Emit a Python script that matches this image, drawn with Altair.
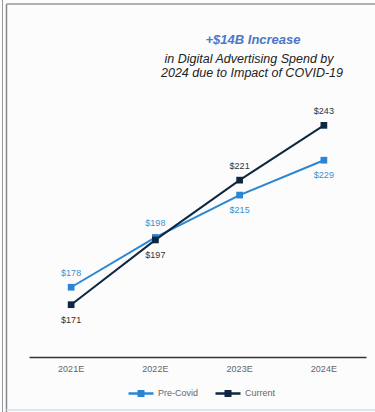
import altair as alt
import pandas as pd

years = ["2021E", "2022E", "2023E", "2024E"]
pre_covid = [178, 198, 215, 229]
current = [171, 197, 221, 243]
series_names = ["Pre-Covid", "Current"]
# label placement: +1 above, -1 below
pre_pos = [1, 1, -1, -1]
cur_pos = [-1, -1, 1, 1]

rows = []
for i, y in enumerate(years):
    rows.append({"year": y, "series": "Pre-Covid", "value": pre_covid[i], "pos": pre_pos[i]})
    rows.append({"year": y, "series": "Current", "value": current[i], "pos": cur_pos[i]})
df = pd.DataFrame(rows)
df["label"] = df["value"].map(lambda v: f"${v}")

colors = ["#2A86D2", "#0F2740"]
FONT = "Liberation Sans"

x = alt.X("year:N", sort=years, scale=alt.Scale(type="band", paddingInner=0, paddingOuter=0),
          axis=alt.Axis(title=None, labelAngle=0, ticks=False, domainColor="#333", domainWidth=1.5,
                        labelColor="#666", labelFontSize=9, labelPadding=7, labelFont=FONT, grid=False))
y = alt.Y("value:Q", scale=alt.Scale(domain=[150, 260], nice=False, zero=False), axis=None)
color = alt.Color("series:N", sort=series_names,
                  scale=alt.Scale(domain=series_names, range=colors),
                  legend=alt.Legend(title=None, orient="none", direction="horizontal",
                                    legendX=98, legendY=296,
                                    symbolType="M-1,0 L1,0 M-0.18,-0.18 L0.18,-0.18 L0.18,0.18 L-0.18,0.18 Z",
                                    symbolSize=625, symbolStrokeWidth=2.5, labelFont=FONT, labelFontSize=9,
                                    labelColor="#666", columnPadding=11, labelOffset=3))

base = alt.Chart(df)
lines = base.mark_line(strokeWidth=2).encode(x=x, y=y, color=color)
points = base.mark_point(shape="square", filled=True, size=45, opacity=1).encode(
    x=x, y=y, color=alt.Color("series:N", sort=series_names, scale=alt.Scale(domain=series_names, range=colors), legend=None))

lab_pre_above = base.transform_filter("datum.series == 'Pre-Covid' && datum.pos > 0").mark_text(
    dy=-14, fontSize=9, font=FONT, color="#3D8FD1").encode(x=x, y=y, text="label:N")
lab_pre_below = base.transform_filter("datum.series == 'Pre-Covid' && datum.pos < 0").mark_text(
    dy=15, fontSize=9, font=FONT, color="#3D8FD1").encode(x=x, y=y, text="label:N")
lab_cur_above = base.transform_filter("datum.series == 'Current' && datum.pos > 0").mark_text(
    dy=-14, fontSize=9, font=FONT, color="#333333").encode(x=x, y=y, text="label:N")
lab_cur_below = base.transform_filter("datum.series == 'Current' && datum.pos < 0").mark_text(
    dy=15, fontSize=9, font=FONT, color="#333333").encode(x=x, y=y, text="label:N")

title_lines = ["+$14B Increase", "in Digital Advertising Spend by", "2024 due to Impact of COVID-19"]
t1 = alt.Chart(pd.DataFrame({"t": [title_lines[0]]})).mark_text(
    fontSize=13, font=FONT, fontStyle="italic", fontWeight="bold", color="#4A78C8", align="center").encode(
    text="t:N", x=alt.value(224), y=alt.value(-43))
t2 = alt.Chart(pd.DataFrame({"t": [title_lines[1]]})).mark_text(
    fontSize=12.5, font=FONT, fontStyle="italic", color="#222", align="center").encode(
    text="t:N", x=alt.value(220), y=alt.value(-24))
t3 = alt.Chart(pd.DataFrame({"t": [title_lines[2]]})).mark_text(
    fontSize=12.5, font=FONT, fontStyle="italic", color="#222", align="center").encode(
    text="t:N", x=alt.value(223), y=alt.value(-10))

frame_left1 = alt.Chart(pd.DataFrame({"a": [0]})).mark_rule(color="#999", strokeWidth=1).encode(
    x=alt.value(-26.5), y=alt.value(-83), y2=alt.value(329))
frame_left2 = alt.Chart(pd.DataFrame({"a": [0]})).mark_rule(color="#888", strokeWidth=1.5).encode(
    x=alt.value(-22.5), y=alt.value(-79), y2=alt.value(329))
frame_top = alt.Chart(pd.DataFrame({"a": [0]})).mark_rule(color="#999", strokeWidth=1.5).encode(
    x=alt.value(-22.5), x2=alt.value(346), y=alt.value(-79))
frame_bottom = alt.Chart(pd.DataFrame({"a": [0]})).mark_rule(color="#D6E6F2", strokeWidth=2).encode(
    x=alt.value(-22.5), x2=alt.value(346), y=alt.value(327))

chart = alt.layer(
    frame_left1, frame_left2, frame_top, frame_bottom,
    lines, points, lab_pre_above, lab_pre_below, lab_cur_above, lab_cur_below, t1, t2, t3
).properties(
    width=337, height=274,
    autosize=alt.AutoSizeParams(type="none"),
    padding={"left": 29, "top": 83, "right": 9, "bottom": 55},
    background="#FCFCFC",
).configure_view(stroke=None)

chart.save("out.html", embed_options={"renderer": "svg", "actions": False})
